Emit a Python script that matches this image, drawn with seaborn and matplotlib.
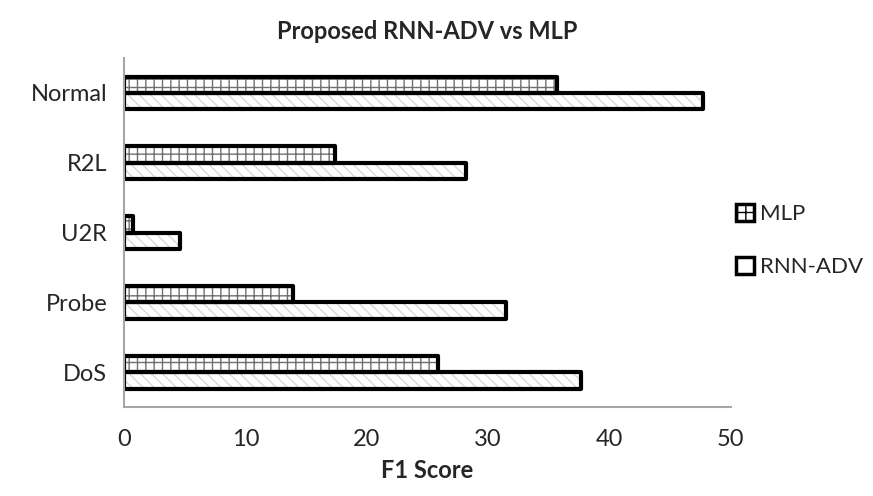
import matplotlib
matplotlib.use('Agg')
import matplotlib.pyplot as plt
from matplotlib.patches import Patch, Rectangle
import seaborn as sb
import pandas as pd

# Data
categories = ["Normal", "R2L", "U2R", "Probe", "DoS"]
models = ["MLP", "RNN-ADV"]
mlp_f1 = [35.7, 17.4, 0.75, 13.9, 25.9]
rnn_adv_f1 = [47.7, 28.2, 4.6, 31.5, 37.7]
x_ticks = [0, 10, 20, 30, 40, 50]

sb.set_theme(style="white")
plt.rcParams['font.family'] = ['Lato', 'DejaVu Sans']

df = pd.DataFrame({
    "Attack": categories * 2,
    "Model": ["MLP"] * len(categories) + ["RNN-ADV"] * len(categories),
    "F1": mlp_f1 + rnn_adv_f1,
})

fig = plt.figure(figsize=(8.73, 4.96), dpi=100, facecolor="white")
ax = fig.add_axes([0.142, 0.179, 0.695, 0.704])

sb.barplot(data=df, x="F1", y="Attack", hue="Model", order=categories, hue_order=models,
           orient="h", width=0.47, gap=0, ax=ax, legend=False, errorbar=None)

# Hatch per model, then a black outline on top of each bar
hatches = {"MLP": "++", "RNN-ADV": "\\\\\\"}
hatch_cols = {"MLP": "#707070", "RNN-ADV": "#d8d8d8"}
for container, model in zip(ax.containers, models):
    for bar in container:
        bar.set_facecolor("white")
        bar.set_edgecolor(hatch_cols[model])
        bar.set_hatch(hatches[model])
        bar.set_linewidth(0)
        ax.add_patch(Rectangle(bar.get_xy(), bar.get_width(), bar.get_height(),
                               fill=False, edgecolor="black", linewidth=3, joinstyle="round"))

ax.set_xlim(0, 50)
ax.set_ylim(4.5, -0.5)
ax.set_xticks(x_ticks)
ax.tick_params(axis="x", labelsize=17, pad=16, colors="#262626", length=0)
ax.tick_params(axis="y", labelsize=17, pad=12, colors="#262626", length=0)

for side in ["top", "right"]:
    ax.spines[side].set_visible(False)
for side in ["left", "bottom"]:
    ax.spines[side].set_color("#a6a6a6")
    ax.spines[side].set_linewidth(1.5)

ax.set_ylabel("")
ax.set_xlabel("F1 Score", fontsize=17, fontweight="bold", color="#262626", labelpad=6)
ax.set_title("Proposed RNN-ADV vs MLP", fontsize=17, fontweight="bold", color="#262626", pad=14)

handles = [Patch(facecolor="white", edgecolor="black", hatch="++", linewidth=2.5),
           Patch(facecolor="white", edgecolor="black", linewidth=2.5)]
fig.legend(handles, models, loc="center left", bbox_to_anchor=(0.82, 0.515), frameon=False,
           fontsize=16, labelspacing=1.5, handlelength=0.8, handleheight=0.8, handletextpad=0.3,
           labelcolor="#262626")

plt.savefig("out.png", dpi=100, facecolor="white")
plt.close()
